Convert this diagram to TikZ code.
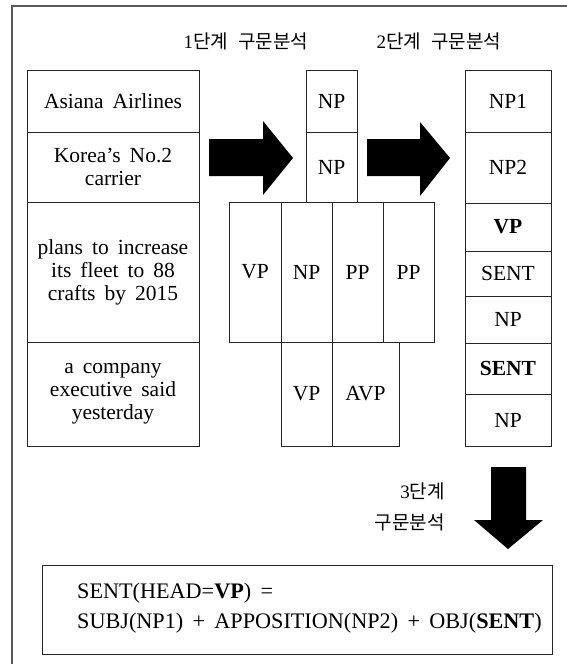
\documentclass[tikz,border=0pt]{standalone}
\usepackage{fontspec}
\setmainfont{Liberation Serif}
\newfontfamily\krfont{Noto Sans CJK KR}
\newcommand\cellbox[6]{%
  \pgfmathsetmacro\mycw{#4-#2}%
  \pgfmathsetmacro\mych{#5-#3}%
  \node[cell, minimum width=\mycw pt, minimum height=\mych pt] (#1) at ({(#2+#4)/2},{(#3+#5)/2}) {#6};}
\newcommand\widesp{\spaceskip=0.42em plus 0.1em\relax}
\begin{document}
\begin{tikzpicture}[x=1pt,y=-1pt,
  cell/.style={draw=black!85, line width=0.8pt, rectangle, inner sep=0pt, align=center,
    font=\fontsize{21.5}{23}\selectfont\widesp},
  frameline/.style={draw=black!65, line width=1.1pt},
  bigarrow/.style={fill=black, draw=none},
  krlabel/.style={inner sep=0pt, font=\fontsize{19}{22}\selectfont},
  formula/.style={inner sep=0pt, anchor=west, align=left, font=\fontsize{22.2}{30}\selectfont\widesp}]
\useasboundingbox (0,0) rectangle (567,664);
\draw[frameline] (567,6) -- (12,6) -- (12,664);
% titles
\node[krlabel] (t1) at (246,41) {1{\krfont 단계\hspace{0.55em}구문분석}};
\node[krlabel] (t2) at (439,41) {2{\krfont 단계\hspace{0.55em}구문분석}};
% left column
\cellbox{a1}{27}{70}{199}{132}{Asiana Airlines}
\cellbox{a2}{27}{132}{199}{202}{Korea’s No.2\\carrier}
\cellbox{a3}{27}{202}{199}{342}{plans to increase\\its fleet to 88\\crafts by 2015}
\cellbox{a4}{27}{342}{199}{446}{a company\\executive said\\yesterday}
% middle column
\cellbox{m1}{306}{70}{357}{132}{NP}
\cellbox{m2}{306}{132}{357}{202}{NP}
\cellbox{m3}{229}{202}{281}{342}{VP}
\cellbox{m4}{281}{202}{332}{342}{NP}
\cellbox{m5}{332}{202}{383}{342}{PP}
\cellbox{m6}{383}{202}{434}{342}{PP}
\cellbox{m7}{281}{342}{332}{446}{VP}
\cellbox{m8}{332}{342}{399}{446}{AVP}
% right column
\cellbox{r1}{465}{70}{551}{132}{NP1}
\cellbox{r2}{465}{132}{551}{203}{NP2}
\cellbox{r3}{465}{203}{551}{251}{\textbf{VP}}
\cellbox{r4}{465}{251}{551}{296}{SENT}
\cellbox{r5}{465}{296}{551}{343}{NP}
\cellbox{r6}{465}{343}{551}{394}{\textbf{SENT}}
\cellbox{r7}{465}{394}{551}{446}{NP}
% arrows
\fill[bigarrow] (209,139) -- (263,139) -- (263,121) -- (293,158) -- (263,195) -- (263,176) -- (209,176) -- cycle;
\fill[bigarrow] (367,139) -- (420,139) -- (420,122) -- (450,158) -- (420,196) -- (420,176) -- (367,176) -- cycle;
\fill[bigarrow] (491,467) -- (526,467) -- (526,520) -- (543,520) -- (508,549) -- (474,520) -- (491,520) -- cycle;
\node[krlabel, align=right, anchor=east, font=\fontsize{19}{31}\selectfont] (t3) at (445,507) {3{\krfont 단계}\\{\krfont 구문분석}};
% formula
\cellbox{fbox}{42}{565}{552}{654}{}
\node[formula] (ftext) at (77,608) {SENT(HEAD=\textbf{VP}) =\\SUBJ(NP1) + APPOSITION(NP2) + OBJ(\textbf{SENT})};
\end{tikzpicture}
\end{document}
